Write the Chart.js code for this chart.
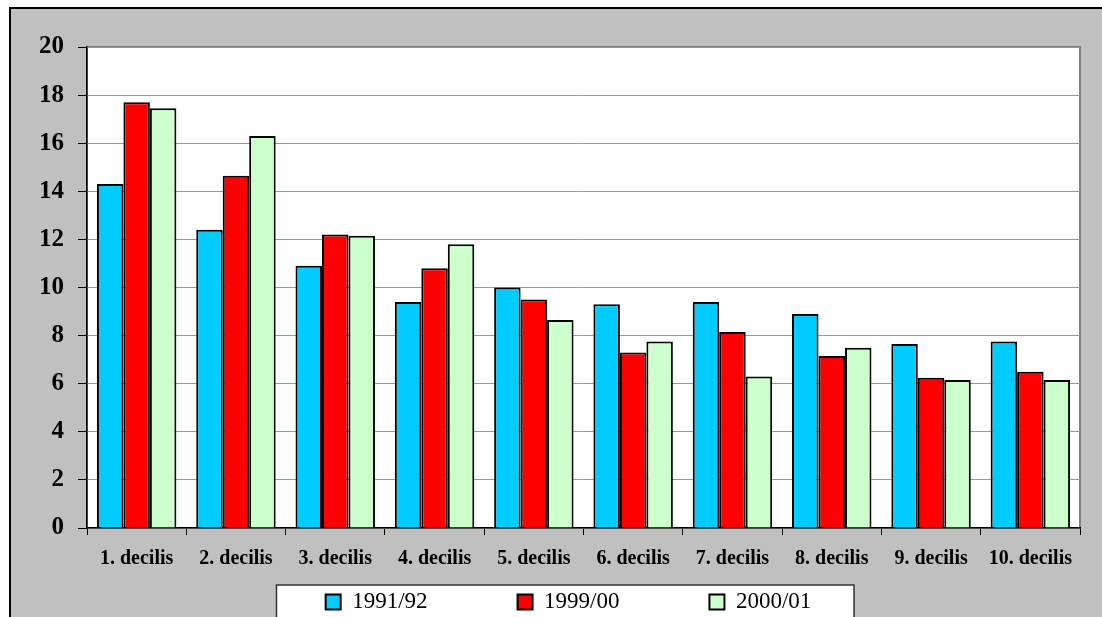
<!DOCTYPE html>
<html>
<head>
<meta charset="utf-8">
<script src="https://cdn.jsdelivr.net/npm/chart.js@4/dist/chart.umd.min.js"></script>
<style>
  html, body { margin: 0; padding: 0; background: #fff; }
  #wrap { width: 1102px; height: 617px; }
</style>
</head>
<body>
<div id="wrap"><canvas id="decilis" width="1102" height="617"></canvas></div>
<script>
// Data
const categories = ['1. decilis', '2. decilis', '3. decilis', '4. decilis', '5. decilis',
                    '6. decilis', '7. decilis', '8. decilis', '9. decilis', '10. decilis'];
const seriesNames = ['1991/92', '1999/00', '2000/01'];
const values1991 = [14.3, 12.4, 10.9, 9.4, 10.0, 9.3, 9.4, 8.9, 7.65, 7.75];
const values1999 = [17.7, 14.65, 12.2, 10.8, 9.5, 7.3, 8.15, 7.15, 6.25, 6.5];
const values2000 = [17.45, 16.3, 12.15, 11.8, 8.65, 7.75, 6.3, 7.5, 6.15, 6.15];
const seriesColors = ['#00ccff', '#ff0000', '#ccffcc'];
const yMin = 0, yMax = 20, yStep = 2;

const SERIF = '"Liberation Serif", "Times New Roman", serif';

// Grey frame, white plot area and the legend panel (Excel look)
const framePlugin = {
    id: 'frame',
    beforeDraw(chart) {
        const ctx = chart.ctx;
        const a = chart.chartArea;
        ctx.save();
        ctx.fillStyle = '#ffffff';
        ctx.fillRect(0, 0, chart.width, chart.height);
        ctx.fillStyle = '#000000';
        ctx.fillRect(9, 7, chart.width - 9, 2);
        ctx.fillRect(9, 7, 2, chart.height - 7);
        ctx.fillStyle = '#c0c0c0';
        ctx.fillRect(11, 9, chart.width - 11, chart.height - 9);

        ctx.fillStyle = '#ffffff';
        ctx.fillRect(a.left, a.top, a.right - a.left, a.bottom - a.top);
        ctx.strokeStyle = '#808080';
        ctx.lineWidth = 2;
        ctx.strokeRect(a.left, a.top, a.right - a.left, a.bottom - a.top);

        // legend panel
        ctx.fillStyle = '#ffffff';
        ctx.fillRect(276.5, 585, 577.5, 40);
        ctx.strokeStyle = '#333333';
        ctx.lineWidth = 1.5;
        ctx.strokeRect(276.5, 585, 577.5, 40);
        ctx.restore();
    }
};

// legend row sits lower and a bit right of where the library would put it
const legendShift = {
    id: 'legendShift',
    afterLayout(chart) {
        const lg = chart.legend;
        if (!lg) return;
        lg.left = 57;
        lg.right = 1080;
        lg.top = 500.5;
        lg.bottom = chart.height + 20;
    }
};

const ctx = document.getElementById('decilis').getContext('2d');

new Chart(ctx, {
    type: 'bar',
    data: {
        labels: categories,
        datasets: [
            { label: seriesNames[0], data: values1991, backgroundColor: seriesColors[0] },
            { label: seriesNames[1], data: values1999, backgroundColor: seriesColors[1] },
            { label: seriesNames[2], data: values2000, backgroundColor: seriesColors[2] }
        ]
    },
    options: {
        responsive: false,
        devicePixelRatio: 1,
        animation: false,
        datasets: {
            bar: {
                borderColor: '#000000',
                borderWidth: 2,
                categoryPercentage: 0.8,
                barPercentage: 1.0
            }
        },
        layout: {
            padding: { left: 12, right: 22, top: 47, bottom: 0 }
        },
        scales: {
            x: {
                afterFit: (scale) => { scale.height = 56; },
                grid: {
                    offset: true,
                    drawOnChartArea: false,
                    drawTicks: true,
                    tickLength: 7,
                    tickColor: '#000000'
                },
                border: { color: '#000000', width: 1.5 },
                ticks: {
                    color: '#000000',
                    padding: 12,
                    maxRotation: 0,
                    font: { family: SERIF, size: 20, weight: 'bold' }
                }
            },
            y: {
                min: yMin,
                max: yMax,
                afterFit: (scale) => { scale.width = 75; },
                grid: {
                    color: '#999999',
                    lineWidth: 1,
                    drawTicks: true,
                    tickLength: 9,
                    tickColor: '#000000'
                },
                border: { color: '#000000', width: 1.5 },
                ticks: {
                    stepSize: yStep,
                    color: '#000000',
                    padding: 14,
                    font: { family: SERIF, size: 25, weight: 'bold' }
                }
            }
        },
        plugins: {
            tooltip: { enabled: false },
            legend: {
                position: 'bottom',
                maxHeight: 33,
                labels: {
                    color: '#000000',
                    boxWidth: 15,
                    boxHeight: 15,
                    padding: 90,
                    font: { family: SERIF, size: 23 }
                }
            }
        }
    },
    plugins: [framePlugin, legendShift]
});
</script>
</body>
</html>
